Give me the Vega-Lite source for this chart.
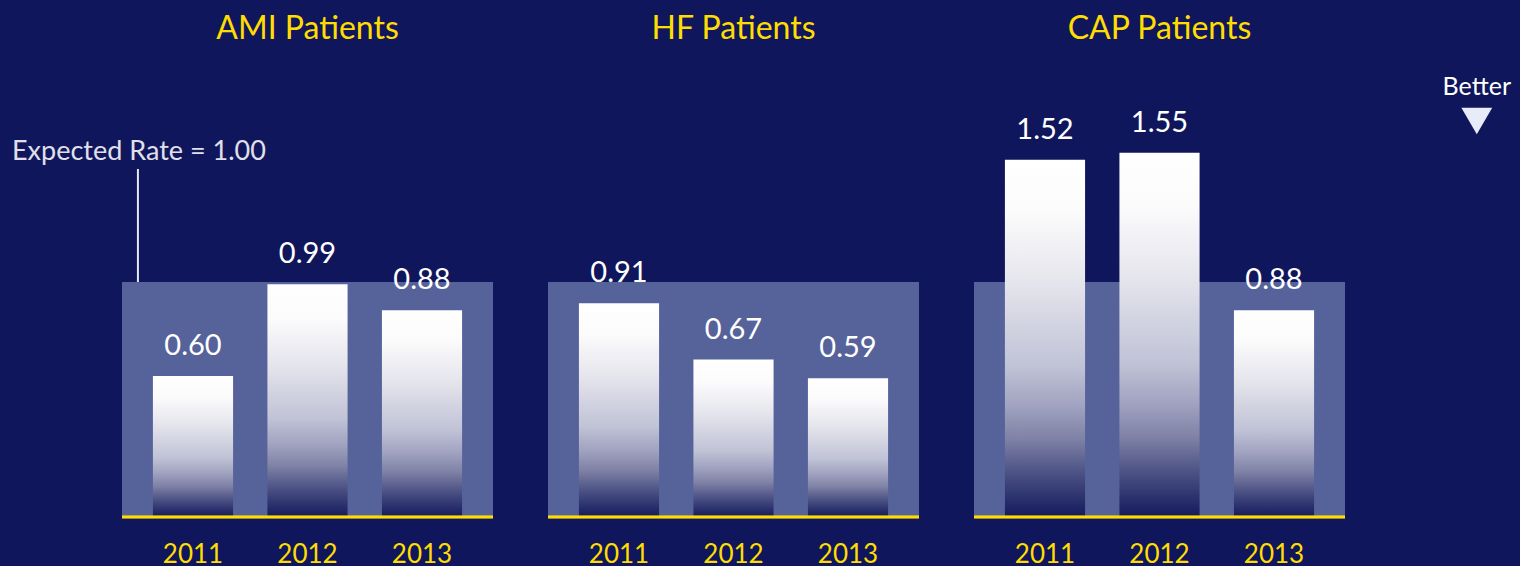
{
  "$schema": "https://vega.github.io/schema/vega-lite/v6.json",
  "background": "#10165c",
  "padding": {"left": 12, "top": 13, "right": 10, "bottom": 6},
  "bounds": "flush",
  "spacing": 55,
  "data": {"values": [
    {"panel": "AMI Patients", "year": "2011", "value": 0.60},
    {"panel": "AMI Patients", "year": "2012", "value": 0.99},
    {"panel": "AMI Patients", "year": "2013", "value": 0.88},
    {"panel": "HF Patients", "year": "2011", "value": 0.91},
    {"panel": "HF Patients", "year": "2012", "value": 0.67},
    {"panel": "HF Patients", "year": "2013", "value": 0.59},
    {"panel": "CAP Patients", "year": "2011", "value": 1.52},
    {"panel": "CAP Patients", "year": "2012", "value": 1.55},
    {"panel": "CAP Patients", "year": "2013", "value": 0.88}
  ]},
  "facet": {
    "column": {
      "field": "panel", "type": "nominal",
      "sort": ["AMI Patients", "HF Patients", "CAP Patients"],
      "title": null,
      "header": {"labelColor": "#ffdd00", "labelFontSize": 32, "labelFont": "Lato", "labelPadding": 48}
    }
  },
  "spec": {
    "width": 371,
    "height": 423,
    "encoding": {
      "x": {"field": "year", "type": "ordinal", "scale": {"paddingInner": 0.3, "paddingOuter": 0.27},
        "axis": {"title": null, "labelAngle": 0, "ticks": false, "domain": false, "labelColor": "#ffdd00",
          "labelFontSize": 26, "labelFont": "Lato", "labelPadding": 24}}
    },
    "layer": [
      {
        "mark": {"type": "rect", "color": "#56639a"},
        "encoding": {
          "x": null,
          "y": {"datum": 0, "type": "quantitative", "scale": {"domain": [0, 1.8]}, "axis": null},
          "y2": {"datum": 1}
        }
      },
      {
        "mark": {"type": "bar", "fill": {"gradient": "linear", "x1": 0, "y1": 0, "x2": 0, "y2": 1,
          "stops": [
            {"offset": 0, "color": "#ffffff"},
            {"offset": 0.15, "color": "#fbfbfc"},
            {"offset": 0.35, "color": "#e4e4ec"},
            {"offset": 0.58, "color": "#c0c2d6"},
            {"offset": 0.69, "color": "#a0a2c0"},
            {"offset": 0.78, "color": "#8082a6"},
            {"offset": 0.86, "color": "#545a8a"},
            {"offset": 0.95, "color": "#2a306c"},
            {"offset": 1, "color": "#151a5e"}
          ]}},
        "encoding": {
          "y": {"field": "value", "type": "quantitative", "scale": {"domain": [0, 1.8]}, "axis": null}
        }
      },
      {
        "mark": {"type": "text", "color": "#ffffff", "fontSize": 29, "font": "Lato", "baseline": "alphabetic", "dy": -21},
        "encoding": {
          "y": {"field": "value", "type": "quantitative", "axis": null},
          "text": {"field": "value", "type": "quantitative", "format": ".2f"}
        }
      },
      {
        "mark": {"type": "rule", "color": "#ffdd00", "strokeWidth": 2.5},
        "encoding": {"x": null, "y": {"datum": 0, "type": "quantitative", "axis": null}}
      },
      {
        "transform": [{"filter": "datum.panel === 'AMI Patients' && datum.year === '2011'"}],
        "mark": {"type": "rule", "color": "#e6e6ee", "strokeWidth": 2},
        "encoding": {
          "x": {"field": "year", "type": "ordinal", "bandPosition": -0.187},
          "y": {"datum": 1.0, "type": "quantitative", "axis": null},
          "y2": {"datum": 1.481}
        }
      },
      {
        "transform": [{"filter": "datum.panel === 'AMI Patients' && datum.year === '2011'"}],
        "mark": {"type": "text", "color": "#e0e0ea", "fontSize": 27, "font": "Lato", "align": "left", "baseline": "alphabetic"},
        "encoding": {
          "x": {"field": "year", "type": "ordinal", "bandPosition": -1.758},
          "y": {"datum": 1.519, "type": "quantitative", "axis": null},
          "text": {"value": "Expected Rate = 1.00"}
        }
      },
      {
        "transform": [{"filter": "datum.panel === 'CAP Patients' && datum.year === '2013'"}],
        "mark": {"type": "text", "color": "#ffffff", "fontSize": 25, "font": "Lato", "align": "center", "baseline": "alphabetic"},
        "encoding": {
          "x": {"field": "year", "type": "ordinal", "bandPosition": 3.03},
          "y": {"datum": 1.796, "type": "quantitative", "axis": null},
          "text": {"value": "Better"}
        }
      },
      {
        "transform": [{"filter": "datum.panel === 'CAP Patients' && datum.year === '2013'"}],
        "mark": {"type": "point", "shape": "triangle-down", "filled": true, "color": "#e8ecf8", "size": 950, "opacity": 1},
        "encoding": {
          "x": {"field": "year", "type": "ordinal", "bandPosition": 3.03},
          "y": {"datum": 1.685, "type": "quantitative", "axis": null}
        }
      }
    ]
  },
  "config": {
    "view": {"stroke": null},
    "font": "Lato"
  }
}
